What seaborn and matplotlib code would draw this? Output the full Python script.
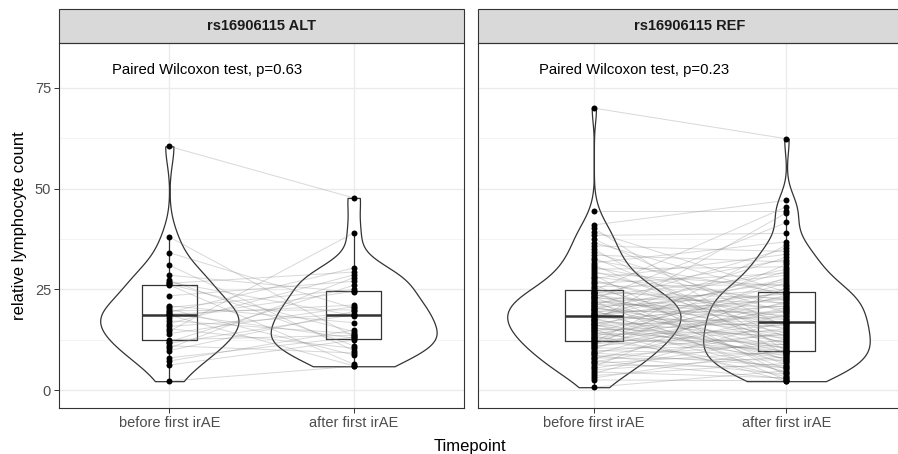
import pandas as pd
import seaborn as sns
import matplotlib.pyplot as plt
from matplotlib.patches import Rectangle
from matplotlib.ticker import MultipleLocator

# categories and labels
timepoints = ["before first irAE", "after first irAE"]
panels = ["rs16906115 ALT", "rs16906115 REF"]
p_labels = ["Paired Wilcoxon test, p=0.63", "Paired Wilcoxon test, p=0.23"]

# ALT carriers, one entry per patient (same order in both lists)
alt_before = [60.5, 38.0, 34.1, 31.0, 28.5, 27.2, 26.8, 26.5, 26.3, 26.1,
              23.4, 20.9, 20.5, 20.1, 19.7, 19.3, 19.0, 18.8, 18.6, 18.0,
              17.2, 16.5, 15.8, 15.2, 14.6, 14.0, 12.5, 12.0, 11.6, 11.0,
              10.4, 9.8, 8.0, 7.2, 6.2, 2.2]
alt_after = [47.7, 13.3, 20.3, 9.8, 24.3, 11.0, 18.5, 29.3, 14.5, 6.4,
             27.0, 16.7, 25.0, 8.7, 19.9, 30.3, 12.9, 21.1, 6.0, 24.5,
             14.0, 28.6, 19.0, 10.4, 39.0, 20.7, 13.6, 26.0, 18.7, 9.2,
             27.9, 19.5, 13.1, 14.9, 12.4, 5.9]

# REF carriers, one entry per patient (same order in both lists)
ref_before = [0.7, 2.5, 3.0, 3.6, 4.1, 4.5, 5.0, 5.4, 5.8, 6.2,
              6.6, 7.0, 7.3, 7.7, 8.0, 8.3, 8.6, 8.9, 9.2, 9.5,
              9.8, 10.1, 10.4, 10.6, 10.9, 11.2, 11.4, 11.7, 11.9, 12.1,
              12.3, 12.5, 12.8, 13.0, 13.2, 13.5, 13.7, 13.9, 14.2, 14.4,
              14.6, 14.8, 15.0, 15.3, 15.5, 15.7, 15.9, 16.1, 16.3, 16.5,
              16.7, 16.9, 17.1, 17.3, 17.5, 17.7, 17.9, 18.1, 18.3, 18.4,
              18.6, 18.8, 19.0, 19.2, 19.4, 19.6, 19.8, 20.0, 20.2, 20.4,
              20.6, 20.8, 21.0, 21.2, 21.5, 21.7, 21.9, 22.1, 22.3, 22.5,
              22.8, 23.0, 23.2, 23.4, 23.6, 23.8, 24.0, 24.2, 24.4, 24.7,
              24.9, 25.3, 25.7, 26.1, 26.5, 26.9, 27.3, 27.7, 28.1, 28.6,
              29.0, 29.5, 30.0, 30.5, 31.0, 31.6, 32.2, 32.8, 33.5, 34.2,
              35.0, 35.8, 36.6, 37.5, 38.4, 39.3, 40.2, 41.0, 44.5, 70.0]
ref_after = [4.8, 2.3, 10.0, 6.6, 17.2, 3.0, 8.2, 12.6, 25.4, 5.7,
             9.5, 14.4, 2.8, 18.8, 7.4, 11.4, 3.9, 22.0, 6.0, 13.9,
             8.9, 28.0, 10.7, 20.4, 15.2, 31.2, 16.4, 19.6, 36.0, 23.5,
             12.1, 5.4, 19.9, 9.8, 26.6, 3.3, 14.7, 21.5, 7.9, 11.2,
             24.6, 16.9, 2.2, 13.4, 9.1, 29.5, 18.3, 10.5, 4.5, 23.0,
             16.0, 6.9, 44.0, 12.9, 20.9, 8.4, 33.0, 16.7, 24.2, 27.5,
             15.5, 22.5, 7.7, 27.0, 11.9, 19.3, 4.2, 30.0, 17.5, 13.6,
             23.8, 9.3, 35.2, 20.7, 10.2, 25.0, 18.5, 2.5, 16.6, 41.6,
             21.7, 6.3, 14.2, 28.5, 17.7, 11.6, 32.4, 22.8, 5.1, 45.5,
             20.1, 12.4, 26.2, 7.2, 29.0, 18.0, 15.0, 33.7, 22.3, 3.6,
             25.8, 16.2, 30.6, 21.2, 10.9, 36.8, 24.0, 13.1, 31.8, 19.1,
             8.7, 34.4, 23.3, 15.7, 38.9, 24.3, 9.6, 47.1, 44.5, 62.4]

rows = []
for panel, before, after in [(panels[0], alt_before, alt_after),
                             (panels[1], ref_before, ref_after)]:
    for i, (b, a) in enumerate(zip(before, after)):
        rows.append({"panel": panel, "patient": i, "Timepoint": timepoints[0], "value": b})
        rows.append({"panel": panel, "patient": i, "Timepoint": timepoints[1], "value": a})
df = pd.DataFrame(rows)

sns.set_theme(style="white")
plt.rcParams["font.family"] = ["Liberation Sans", "DejaVu Sans"]

# layout (pixels of the 898x454 figure)
W, H = 898, 454
fig = plt.figure(figsize=(W / 100, H / 100), dpi=100)
top, bottom = 43.3, 408.3
strip_top = 9.0
panel_x = [(58.7, 464.3), (478.3, 902.0)]
label_x = [-0.31, -0.285]
# drawn violin widths (ggplot scale="area" look)
violin_w = [[0.75, 0.9], [0.9, 0.865]]

for k, (x0, x1) in enumerate(panel_x):
    ax = fig.add_axes([x0 / W, 1 - bottom / H, (x1 - x0) / W, (bottom - top) / H])
    sub = df[df["panel"] == panels[k]]

    for j, t in enumerate(timepoints):
        sns.violinplot(data=sub[sub["Timepoint"] == t], x="Timepoint", y="value",
                       order=timepoints, cut=0, inner=None, color="white",
                       linecolor="#333333", linewidth=0.9, width=violin_w[k][j],
                       density_norm="width", bw_adjust=0.85, ax=ax)
    sns.boxplot(data=sub, x="Timepoint", y="value", order=timepoints, width=0.3,
                fill=False, color="#333333", linewidth=0.9, showfliers=False,
                showcaps=False, medianprops={"linewidth": 1.8}, ax=ax)
    sns.lineplot(data=sub, x="Timepoint", y="value", units="patient", estimator=None,
                 color="#7f7f7f", alpha=0.3, linewidth=0.7, legend=False, ax=ax)
    sns.stripplot(data=sub, x="Timepoint", y="value", order=timepoints, jitter=False,
                  color="black", size=4.3, linewidth=0, zorder=4, ax=ax)

    ax.set_xlim(-0.6, 1.6)
    ax.set_ylim(-4.54, 86.1)
    ax.yaxis.set_major_locator(MultipleLocator(25))
    ax.yaxis.set_minor_locator(MultipleLocator(12.5))
    ax.set_axisbelow(True)
    ax.grid(True, which="major", color="#EBEBEB", linewidth=1.0)
    ax.grid(True, which="minor", axis="y", color="#F2F2F2", linewidth=0.6)
    ax.tick_params(axis="both", which="major", direction="out", length=3.5, width=0.7,
                   color="#333333", labelsize=10.5, labelcolor="#4D4D4D", pad=2,
                   bottom=True, left=(k == 0))
    ax.tick_params(which="minor", length=0)
    if k > 0:
        ax.tick_params(labelleft=False)
    for s in ax.spines.values():
        s.set_color("#333333")
        s.set_linewidth(0.8)
    ax.set_xlabel("")
    ax.set_ylabel("")

    # facet strip
    sh = (top - strip_top) / (bottom - top)
    ax.add_patch(Rectangle((0, 1), 1, sh, transform=ax.transAxes, clip_on=False,
                           facecolor="#D9D9D9", edgecolor="#333333", linewidth=0.8))
    ax.text(0.5, 1 + sh / 2, panels[k], transform=ax.transAxes, ha="center",
            va="center", fontsize=10.5, fontweight="bold", color="#1A1A1A")

    ax.text(label_x[k], 79.4, p_labels[k], ha="left", va="center", fontsize=10.7,
            color="black")

fig.text(20 / W, 1 - 226 / H, "relative lymphocyte count", rotation=90,
         ha="center", va="center", fontsize=12, color="black")
fig.text(470 / W, 1 - 446 / H, "Timepoint", ha="center", va="center",
         fontsize=12, color="black")

fig.savefig("out.png", dpi=100)
